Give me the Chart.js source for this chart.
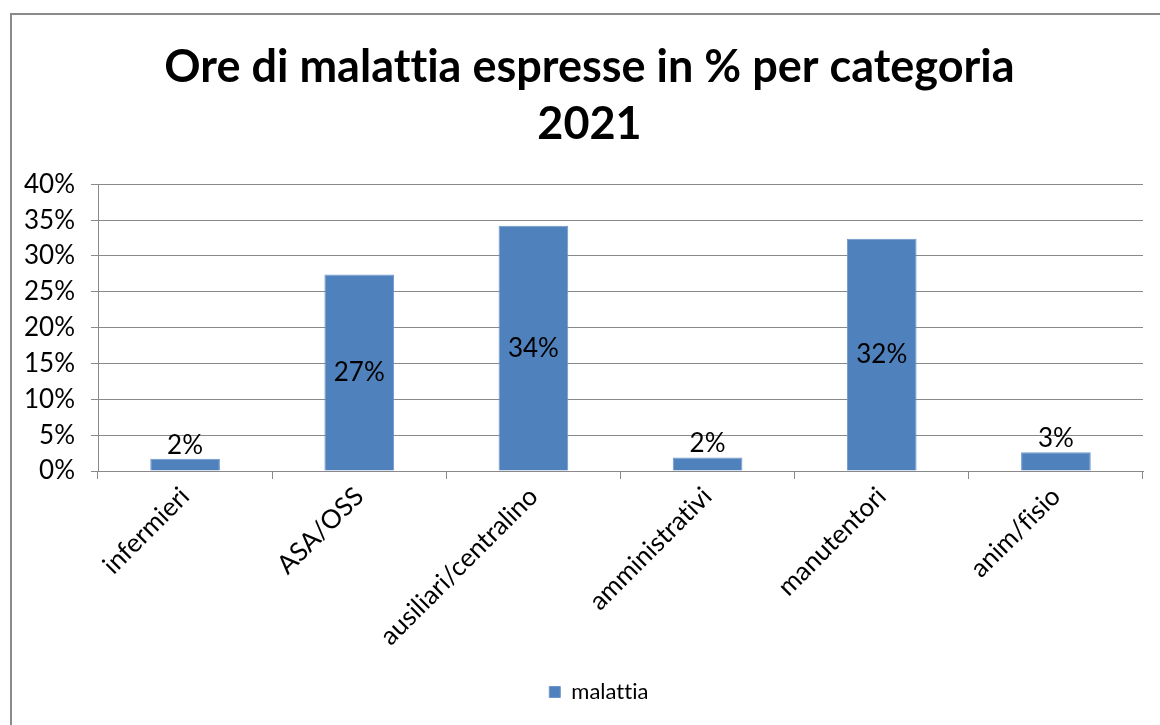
<!DOCTYPE html>
<html>
<head>
<meta charset="utf-8">
<script src="https://cdn.jsdelivr.net/npm/chart.js@4.4.1/dist/chart.umd.min.js"></script>
<style>
  html, body { margin: 0; padding: 0; background: #fff; }
  #wrap { position: relative; width: 1160px; height: 725px; overflow: hidden; background: #fff; }
  #frame { position: absolute; left: 10px; top: 13px; width: 1200px; height: 800px;
           border-left: 2px solid #8a8a8a; border-top: 2px solid #8a8a8a; }
  #c { position: absolute; left: 0; top: 0; }
</style>
</head>
<body>
<div id="wrap">
  <div id="frame"></div>
  <canvas id="c" width="1160" height="725"></canvas>
</div>
<script>
const titleLines = ['Ore di malattia espresse in % per categoria', '2021'];
const categories = ['infermieri', 'ASA/OSS', 'ausiliari/centralino', 'amministrativi', 'manutentori', 'anim/fisio'];
const seriesName = 'malattia';
const values = [1.7, 27.4, 34.2, 1.9, 32.4, 2.6];
const yTicksMax = 40;
const yTicksStep = 5;

const FONT = 'Lato, "Open Sans", "Liberation Sans", sans-serif';
const GRID = '#898989';

const noLigatures = {
  id: 'noLigatures',
  beforeDraw(chart) {
    const ctx = chart.ctx;
    try { ctx.textRendering = 'optimizeSpeed'; } catch (e) {}
    try { ctx.letterSpacing = '0.01px'; } catch (e) {}
  }
};

const shiftBoxes = {
  id: 'shiftBoxes',
  afterLayout(chart) {
    if (chart.titleBlock) { chart.titleBlock.left += 18; chart.titleBlock.right += 18; }
    if (chart.legend) { chart.legend.left += 27; chart.legend.right += 27; }
  }
};

const labelPlugin = {
  id: 'barLabels',
  afterDatasetsDraw(chart) {
    const ctx = chart.ctx;
    const meta = chart.getDatasetMeta(0);
    ctx.save();
    ctx.font = '26px ' + FONT;
    ctx.fillStyle = '#000';
    ctx.textAlign = 'center';
    meta.data.forEach((bar, i) => {
      const v = values[i];
      const txt = Math.round(v) + '%';
      if (v > 10) {
        ctx.textBaseline = 'middle';
        ctx.fillText(txt, bar.x, (bar.y + bar.base) / 2);
      } else {
        ctx.textBaseline = 'alphabetic';
        ctx.fillText(txt, bar.x, bar.y - 5);
      }
    });
    ctx.restore();
  }
};

new Chart(document.getElementById('c'), {
  type: 'bar',
  data: {
    labels: categories,
    datasets: [{
      label: seriesName,
      data: values,
      backgroundColor: '#4F81BD',
      borderColor: '#6f97cc',
      borderWidth: 1,
      categoryPercentage: 1.0,
      barPercentage: 0.4
    }]
  },
  options: {
    responsive: false,
    animation: false,
    devicePixelRatio: 1,
    layout: { padding: { left: 0, right: 17, top: 0, bottom: 12 } },
    plugins: {
      title: {
        display: true,
        text: titleLines,
        color: '#000',
        font: { family: FONT, size: 45, weight: 'bold', lineHeight: 1.27 },
        padding: { top: 39, bottom: 31 }
      },
      legend: {
        display: true,
        position: 'bottom',
        labels: {
          color: '#000',
          font: { family: FONT, size: 22 },
          boxWidth: 11,
          boxHeight: 11,
          padding: 10
        }
      },
      tooltip: { enabled: false }
    },
    scales: {
      x: {
        offset: true,
        grid: { display: true, drawOnChartArea: false, drawTicks: true, tickLength: 8, offset: true, color: GRID },
        border: { display: true, color: GRID, width: 1 },
        ticks: {
          color: '#000',
          font: { family: FONT, size: 26 },
          minRotation: 45,
          maxRotation: 45,
          autoSkip: false,
          padding: 2
        },
        afterFit(scale) { scale.height = 200; }
      },
      y: {
        min: 0,
        max: yTicksMax,
        ticks: {
          stepSize: yTicksStep,
          color: '#000',
          font: { family: FONT, size: 26 },
          padding: 16,
          callback: (v) => v + '%'
        },
        grid: { color: GRID, tickLength: 7, lineWidth: 1 },
        border: { display: true, color: GRID, width: 1 },
        afterFit(scale) { scale.width = 98; }
      }
    }
  },
  plugins: [noLigatures, shiftBoxes, labelPlugin]
});
</script>
</body>
</html>
